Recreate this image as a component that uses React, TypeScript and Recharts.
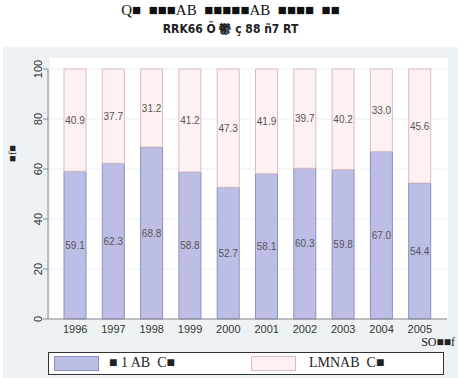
import React from 'react';
import { BarChart, Bar, XAxis, YAxis, CartesianGrid, LabelList } from 'recharts';

const years = ['1996', '1997', '1998', '1999', '2000', '2001', '2002', '2003', '2004', '2005'];
const lowerShare = [59.1, 62.3, 68.8, 58.8, 52.7, 58.1, 60.3, 59.8, 67.0, 54.4];
const upperShare = [40.9, 37.7, 31.2, 41.2, 47.3, 41.9, 39.7, 40.2, 33.0, 45.6];
const yTicks = [0, 20, 40, 60, 80, 100];

const titleTop = 'Q■  ■■■AB  ■■■■■AB  ■■■■  ■■';
const titleSub = 'RRK66 Ö 鬱 ç 88 ñ7 RT';
const yTitle = '■f■';
const xTitle = 'SO■■f';
const legendLower = '■ 1 AB  C■';
const legendUpper = 'LMNAB  C■';

const data = years.map((y, i) => ({ year: y, lower: lowerShare[i], upper: upperShare[i] }));

const PURPLE = '#bdbee6';
const PURPLE_LINE = '#8d8ec4';
const PINK = '#fdf1f1';
const PINK_LINE = '#dcbcc3';

const YTick = (props: any) => {
  const { x, y, payload } = props;
  const bx = x + 1;
  return (
    <text x={bx} y={y} transform={`rotate(-90, ${bx}, ${y})`} textAnchor="middle"
      fontSize={11} fill="#333" fontFamily="Liberation Sans, Arial, sans-serif">
      {payload.value}
    </text>
  );
};

const fmt = (v: any) => Number(v).toFixed(1);

export default function App() {
  return (
    <div style={{ position: 'absolute', left: 0, top: 0, width: 461, height: 378, background: '#fff', overflow: 'hidden' }}>
      {/* titles */}
      <div style={{ position: 'absolute', left: 0, top: 2, width: 461, textAlign: 'center',
        fontFamily: 'Liberation Serif, serif', fontSize: 15, lineHeight: '17px', color: '#111', whiteSpace: 'pre' }}>{titleTop}</div>
      <div style={{ position: 'absolute', left: 0, top: 21, width: 461, textAlign: 'center',
        fontFamily: 'DejaVu Sans Condensed, DejaVu Sans, sans-serif', fontWeight: 'bold', fontSize: 12,
        fontStretch: 'condensed', color: '#222', whiteSpace: 'pre' }}>{titleSub}</div>
      {/* graph region */}
      <div style={{ position: 'absolute', left: 3, top: 47, width: 455, height: 331, background: '#edf3f5' }} />
      {/* plot region */}
      <div style={{ position: 'absolute', left: 50, top: 58, width: 398, height: 261, background: '#fff' }} />
      <div style={{ position: 'absolute', left: 0, top: 0 }}>
        <BarChart width={461} height={378} data={data}
          margin={{ top: 69, right: 14, bottom: 39, left: 0 }} barSize={22}>
          <CartesianGrid vertical={false} stroke="#e9f0f3" strokeWidth={1} />
          <XAxis dataKey="year" height={20} tickLine={false} padding={{ left: 8, right: 8 }}
            axisLine={{ stroke: '#8a8a8a' }} tick={{ fontSize: 11, fill: '#333', fontFamily: 'Liberation Sans, Arial, sans-serif' }}
            dy={-2} interval={0} />
          <YAxis width={48} domain={[0, 100]} ticks={yTicks} axisLine={{ stroke: '#8a8a8a' }}
            tickLine={{ stroke: '#8a8a8a' }} tickSize={5} tick={<YTick />} interval={0} />
          <Bar dataKey="lower" stackId="s" fill={PURPLE} stroke={PURPLE_LINE} strokeWidth={1} isAnimationActive={false}>
            <LabelList dataKey="lower" position="center" formatter={fmt}
              style={{ fontSize: 10, fill: '#555', fontFamily: 'Liberation Sans, Arial, sans-serif' }} />
          </Bar>
          <Bar dataKey="upper" stackId="s" fill={PINK} stroke={PINK_LINE} strokeWidth={1} isAnimationActive={false}>
            <LabelList dataKey="upper" position="center" formatter={fmt}
              style={{ fontSize: 10, fill: '#555', fontFamily: 'Liberation Sans, Arial, sans-serif' }} />
          </Bar>
        </BarChart>
      </div>
      {/* axis titles */}
      <div style={{ position: 'absolute', left: 6, top: 162, transform: 'rotate(-90deg)', transformOrigin: 'left top',
        fontFamily: 'Liberation Serif, serif', fontSize: 11, color: '#222', whiteSpace: 'pre' }}>{yTitle}</div>
      <div style={{ position: 'absolute', right: 6, top: 335, fontFamily: 'Liberation Serif, serif', fontSize: 12,
        color: '#222', whiteSpace: 'pre' }}>{xTitle}</div>
      {/* legend */}
      <div style={{ position: 'absolute', left: 48, top: 352, width: 396, height: 23, background: '#fff',
        border: '1px solid #333', boxSizing: 'border-box' }}>
        <div style={{ position: 'absolute', left: 5, top: 3, width: 43, height: 13, background: PURPLE, border: `1px solid ${PURPLE_LINE}` }} />
        <div style={{ position: 'absolute', left: 60, top: 2, fontFamily: 'Liberation Serif, serif', fontSize: 14,
          color: '#222', whiteSpace: 'pre', lineHeight: '16px' }}>{legendLower}</div>
        <div style={{ position: 'absolute', left: 202, top: 3, width: 43, height: 13, background: PINK, border: `1px solid ${PINK_LINE}` }} />
        <div style={{ position: 'absolute', left: 260, top: 2, fontFamily: 'Liberation Serif, serif', fontSize: 14,
          color: '#222', whiteSpace: 'pre', lineHeight: '16px' }}>{legendUpper}</div>
      </div>
    </div>
  );
}
